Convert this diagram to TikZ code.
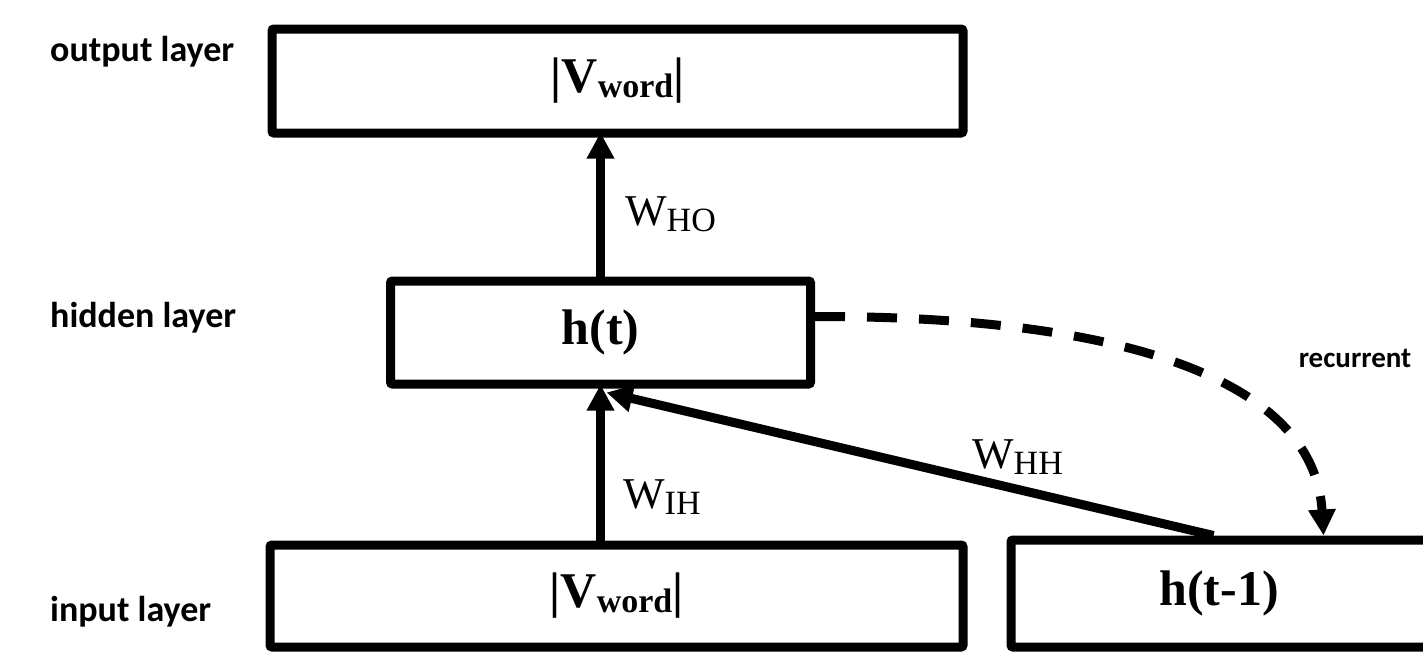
\documentclass[tikz,border=0pt]{standalone}
\usepackage{fontspec}
\setmainfont{Liberation Serif}
\newfontfamily\calib{Carlito}
\usetikzlibrary{arrows.meta}
\newcommand\bsub[1]{\raisebox{-5pt}{\fontsize{34}{34}\selectfont #1}}
\newcommand\wsub[1]{\raisebox{-6pt}{\fontsize{34}{34}\selectfont #1}}
\begin{document}
\begin{tikzpicture}[x=1pt,y=-1pt,
  box/.style={draw, line width=9pt, rounded corners=2pt, inner sep=0pt,
    font=\bfseries\fontsize{50}{54}\selectfont},
  lay/.style={anchor=west, inner sep=0pt, font=\calib\bfseries\fontsize{36}{40}\selectfont},
  rec/.style={anchor=center, inner sep=0pt, font=\calib\bfseries\fontsize{29}{32}\selectfont},
  wlbl/.style={anchor=base west, inner sep=0pt, font=\fontsize{44}{48}\selectfont},
  arr/.style={line width=9pt, -{Triangle[width=26pt,length=26pt]}},
]
\useasboundingbox (0,0) rectangle (1423,651);
\fill[white] (0,0) rectangle (1423,651);

% boxes
\node[box, minimum width=691pt, minimum height=104pt] (out) at (617.5,81) {|V\bsub{word}|};
\node[box, minimum width=420pt, minimum height=103pt] (hid) at (600.5,332.5) {h(t)};
\node[box, minimum width=489pt, minimum height=107pt] (prev) at (1255.5,593.5) {\hspace*{-73pt}h(t-1)};
\node[box, minimum width=693pt, minimum height=102pt] (inp) at (616.5,596) {|V\bsub{word}|};

% layer labels
\node[lay] (lout) at (50,52) {output layer};
\node[lay] (lhid) at (50,318) {hidden layer};
\node[lay] (linp) at (50,612) {input layer};

% connectors
\draw[arr, shorten >=-5pt] (hid.north) -- (hid.north |- out.south);
\draw[arr, shorten >=-4pt] (inp.north -| hid.south) -- (hid.south);
\coordinate (hhstart) at ([xshift=207pt]prev.north west);
\coordinate (hhend) at ([xshift=6pt,yshift=-4pt]hid.south);
\draw[line width=9pt, -{Triangle[width=26pt,length=26pt]}] (hhstart) -- (hhend);
\coordinate (rstart) at ([yshift=16pt]hid.east);
\coordinate (rend) at ([xshift=317pt]prev.north west);
\draw[line width=9pt, dash pattern=on 30pt off 22pt, -{Triangle[width=26pt,length=26pt]}]
  (rstart) .. controls (1150,316) and (1315,390) .. (rend);

% weight labels
\node[wlbl] (who) at (625,225) {W\wsub{HO}};
\node[wlbl] (wih) at (623,508) {W\wsub{IH}};
\node[wlbl] (whh) at (972,468) {W\wsub{HH}};
\node[rec] (lrec) at (1355,358) {recurrent};
\end{tikzpicture}
\end{document}
